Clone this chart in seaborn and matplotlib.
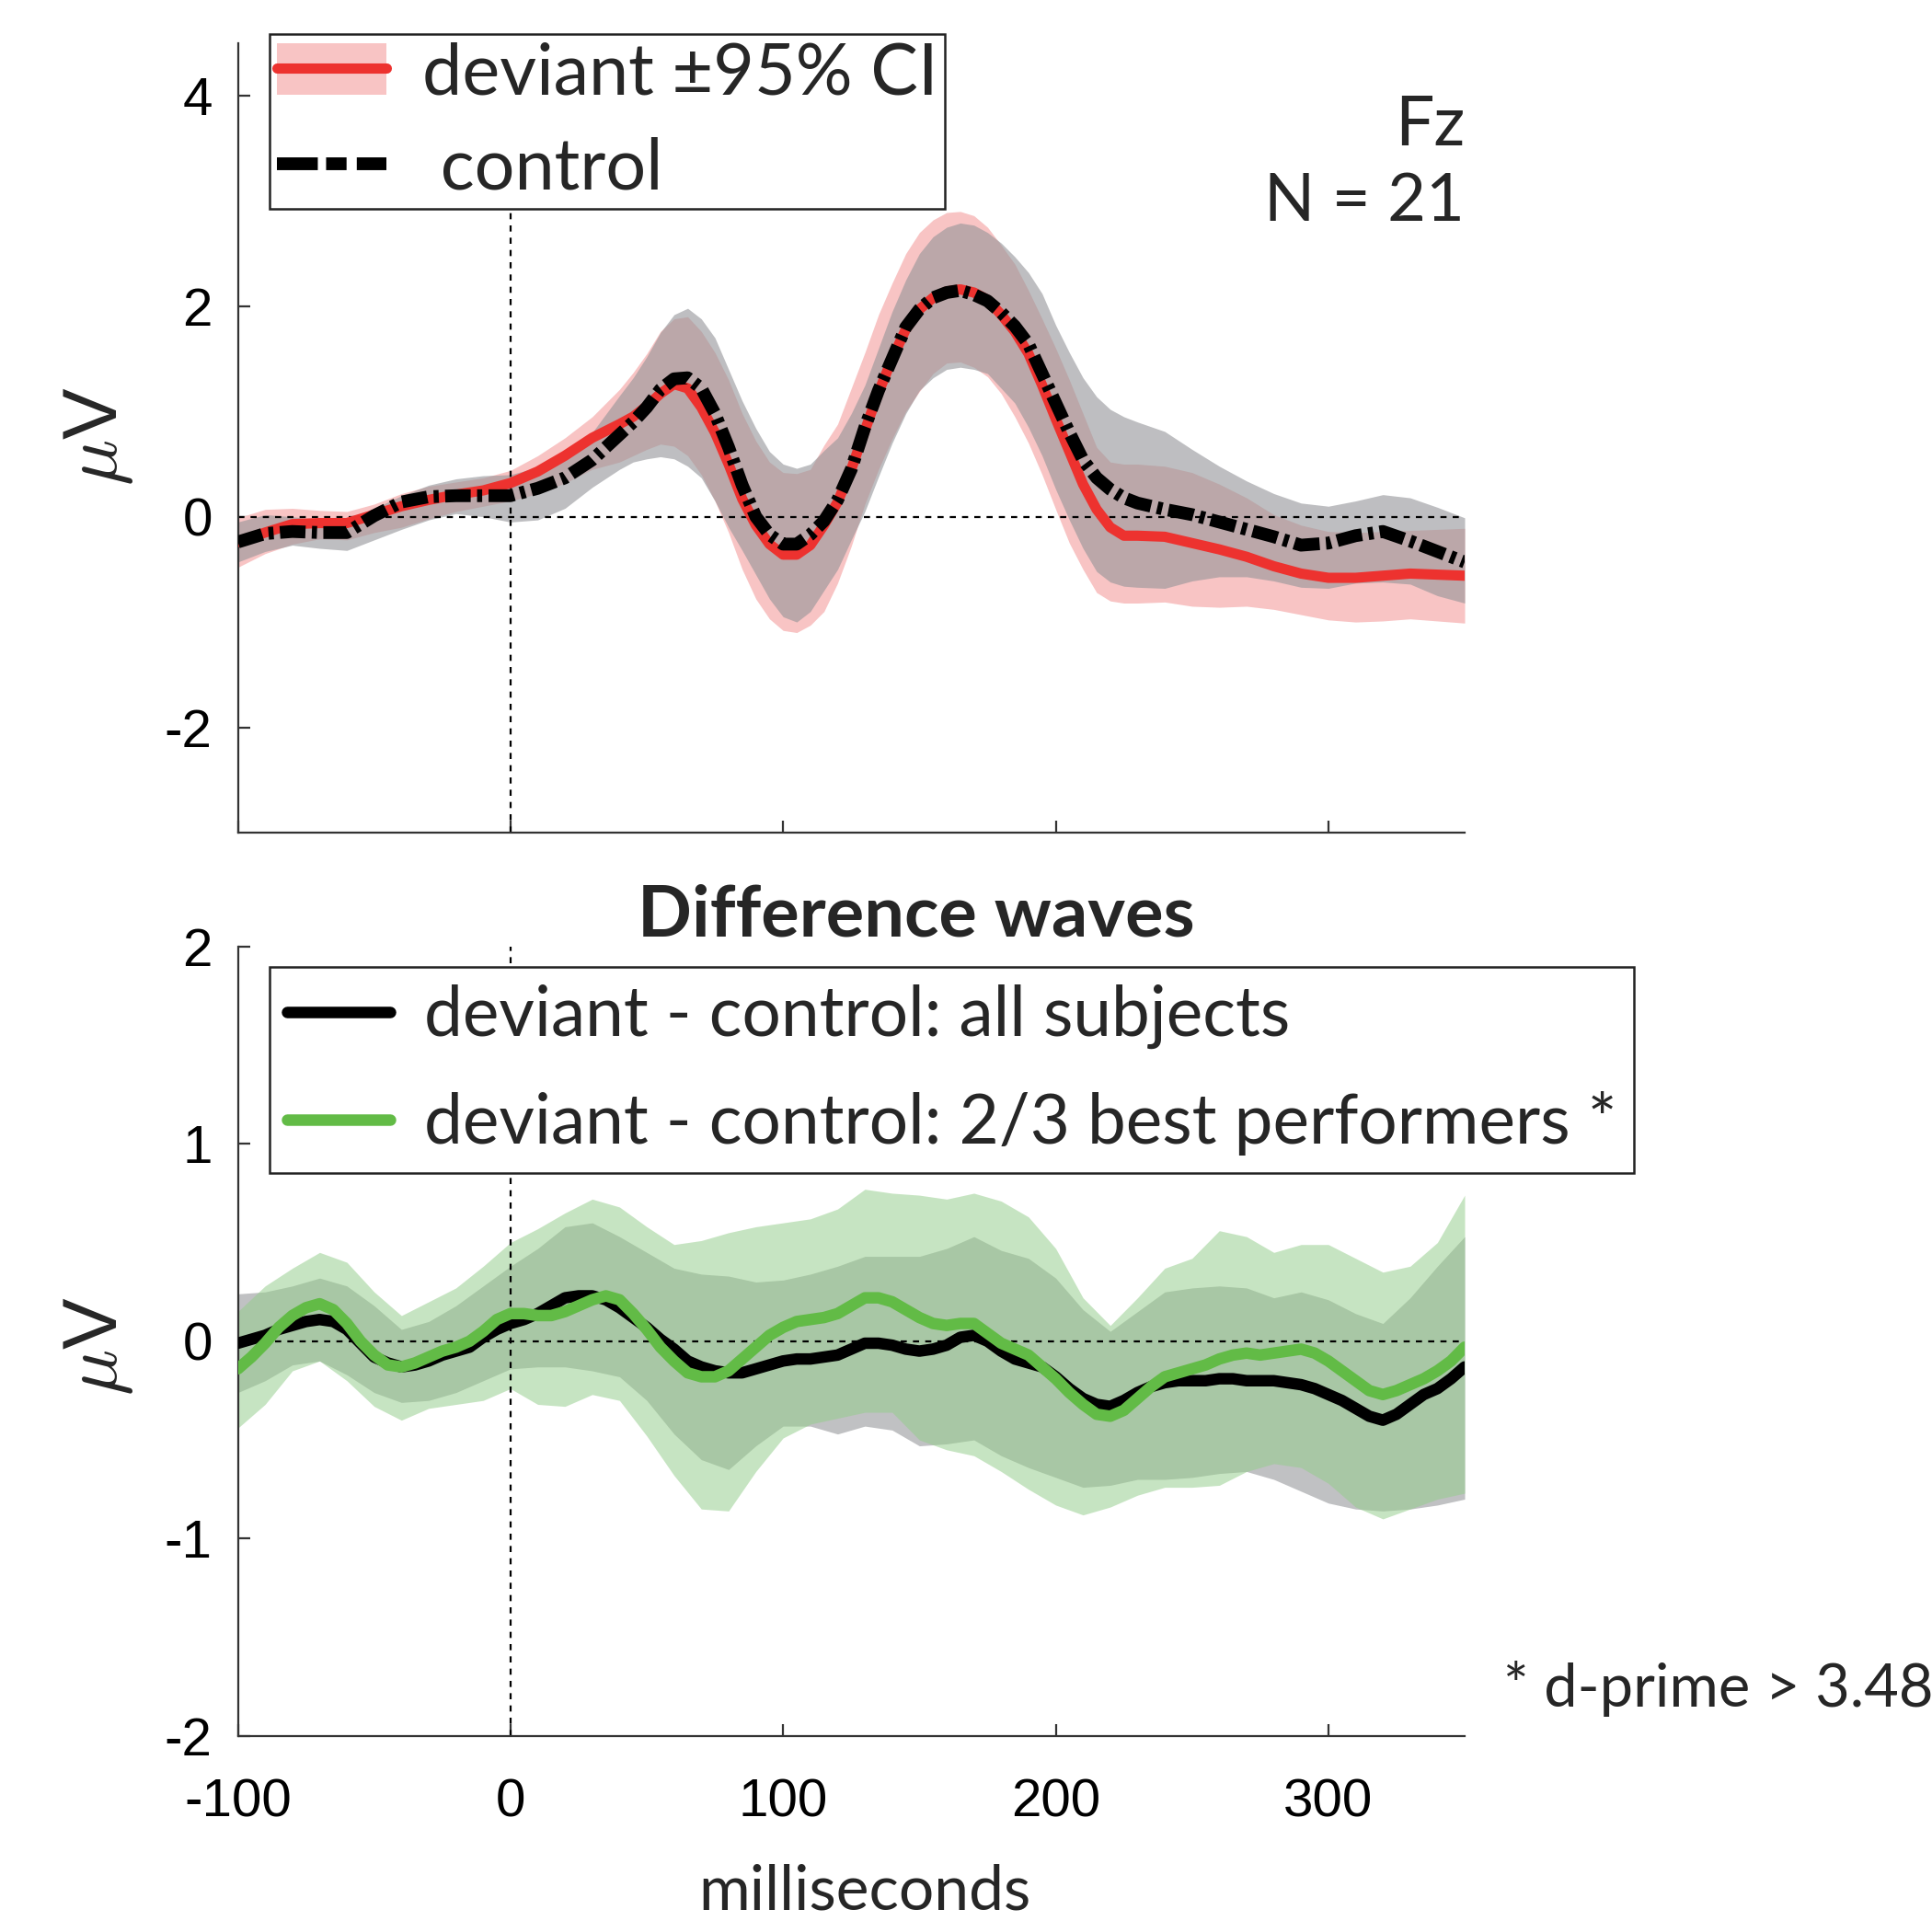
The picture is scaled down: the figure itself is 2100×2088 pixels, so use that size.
import pandas as pd
import matplotlib
matplotlib.use("Agg")
import matplotlib.pyplot as plt
from matplotlib.patches import Patch
from matplotlib.lines import Line2D
import seaborn as sns

# time axes in ms (top panel read every 5 ms around the peaks, 10 ms elsewhere)
time_top = list(range(-100, 40, 10)) + list(range(40, 231, 5)) + list(range(240, 351, 10))
time_band = list(range(-100, 351, 10))
time_line = list(range(-100, 351, 5))

####### Fz, N = 21 : grand averages (uV)
deviant = [-0.24, -0.15, -0.07, -0.06, -0.06, 0.02, 0.10, 0.16, 0.21, 0.25, 0.32, 0.43, 0.58, 0.75,
           0.88, 0.95, 1.05, 1.17, 1.26, 1.22, 1.04, 0.80, 0.50, 0.17,
           -0.08, -0.26, -0.36, -0.36, -0.27, -0.08, 0.14, 0.45, 0.82, 1.18,
           1.50, 1.78, 1.97, 2.08, 2.14, 2.16, 2.13, 2.06, 1.92, 1.76,
           1.55, 1.25, 0.93, 0.62, 0.31, 0.07, -0.10, -0.18, -0.18,
           -0.19, -0.25, -0.31, -0.38, -0.47, -0.54, -0.58, -0.58, -0.56, -0.54, -0.55, -0.56]
deviant_lo = [-0.48, -0.35, -0.26, -0.21, -0.22, -0.15, -0.10, -0.02, 0.05, 0.10, 0.15, 0.22, 0.32, 0.45,
              0.52, 0.58, 0.64, 0.69, 0.67, 0.58, 0.40, 0.15, -0.15, -0.50,
              -0.78, -0.97, -1.08, -1.10, -1.03, -0.90, -0.63, -0.28, 0.12, 0.45,
              0.74, 1.00, 1.19, 1.36, 1.46, 1.47, 1.42, 1.33, 1.17, 0.95,
              0.70, 0.40, 0.07, -0.25, -0.50, -0.72, -0.80, -0.82, -0.82,
              -0.81, -0.85, -0.86, -0.85, -0.88, -0.93, -0.98, -1.00, -0.99, -0.97, -0.99, -1.01]
deviant_hi = [-0.01, 0.07, 0.08, 0.06, 0.05, 0.12, 0.22, 0.29, 0.33, 0.37, 0.44, 0.58, 0.75, 0.95,
              1.21, 1.37, 1.55, 1.76, 1.88, 1.90, 1.76, 1.56, 1.30, 0.98,
              0.72, 0.52, 0.42, 0.41, 0.45, 0.68, 0.88, 1.22, 1.56, 1.92,
              2.22, 2.50, 2.70, 2.82, 2.89, 2.90, 2.86, 2.75, 2.58, 2.40,
              2.15, 1.88, 1.60, 1.30, 0.98, 0.66, 0.52, 0.50, 0.50,
              0.48, 0.42, 0.31, 0.18, 0.02, -0.08, -0.14, -0.15, -0.14, -0.13, -0.12, -0.11]
control = [-0.24, -0.16, -0.14, -0.15, -0.15, 0.01, 0.14, 0.19, 0.20, 0.20, 0.20, 0.27, 0.37, 0.54,
           0.78, 0.90, 1.04, 1.21, 1.31, 1.32, 1.22, 0.98, 0.66, 0.30,
           0.00, -0.17, -0.26, -0.26, -0.17, -0.04, 0.16, 0.45, 0.85, 1.20,
           1.50, 1.80, 1.97, 2.08, 2.13, 2.15, 2.11, 2.05, 1.94, 1.81,
           1.64, 1.36, 1.08, 0.80, 0.54, 0.37, 0.26, 0.18, 0.13,
           0.07, 0.02, -0.05, -0.12, -0.19, -0.27, -0.25, -0.18, -0.14, -0.23, -0.33, -0.43]
control_lo = [-0.43, -0.33, -0.27, -0.30, -0.32, -0.22, -0.12, -0.03, 0.03, 0.00, -0.05, -0.03, 0.08, 0.28,
              0.45, 0.52, 0.55, 0.57, 0.55, 0.48, 0.37, 0.15, -0.10, -0.32,
              -0.55, -0.78, -0.95, -1.00, -0.90, -0.70, -0.50, -0.22, 0.05, 0.38,
              0.70, 0.98, 1.20, 1.32, 1.40, 1.42, 1.40, 1.36, 1.22, 1.08,
              0.85, 0.58, 0.26, -0.03, -0.30, -0.52, -0.62, -0.66, -0.67,
              -0.68, -0.61, -0.57, -0.57, -0.61, -0.67, -0.68, -0.63, -0.62, -0.64, -0.75, -0.82]
control_hi = [-0.05, 0.02, 0.00, -0.03, -0.02, 0.08, 0.20, 0.30, 0.36, 0.39, 0.40, 0.47, 0.58, 0.80,
              1.15, 1.32, 1.52, 1.75, 1.92, 1.98, 1.88, 1.70, 1.40, 1.10,
              0.84, 0.62, 0.50, 0.46, 0.50, 0.63, 0.75, 0.98, 1.25, 1.60,
              1.95, 2.25, 2.50, 2.66, 2.75, 2.79, 2.77, 2.70, 2.60, 2.47,
              2.32, 2.12, 1.82, 1.56, 1.32, 1.14, 1.02, 0.95, 0.90,
              0.81, 0.64, 0.48, 0.34, 0.22, 0.13, 0.10, 0.15, 0.21, 0.18, 0.09, -0.01]

####### Difference waves (deviant - control), lines every 5 ms
diff_all = [-0.01, 0.01, 0.03, 0.06, 0.08, 0.10, 0.11, 0.10, 0.06, -0.01,
            -0.08, -0.11, -0.13, -0.12, -0.10, -0.07, -0.05, -0.03, 0.02, 0.06,
            0.09, 0.11, 0.14, 0.18, 0.22, 0.23, 0.23, 0.21, 0.17, 0.12,
            0.07, 0.01, -0.04, -0.10, -0.13, -0.15, -0.16, -0.16, -0.14, -0.12,
            -0.10, -0.09, -0.09, -0.08, -0.07, -0.04, -0.01, -0.01, -0.02, -0.04,
            -0.05, -0.04, -0.02, 0.02, 0.03, 0.00, -0.05, -0.09, -0.11, -0.13,
            -0.18, -0.24, -0.29, -0.32, -0.33, -0.30, -0.26, -0.23, -0.21, -0.20,
            -0.20, -0.20, -0.19, -0.19, -0.20, -0.20, -0.20, -0.21, -0.22, -0.24,
            -0.27, -0.30, -0.34, -0.38, -0.40, -0.37, -0.32, -0.27, -0.24, -0.19,
            -0.13]
diff_best = [-0.14, -0.08, -0.01, 0.07, 0.13, 0.17, 0.19, 0.16, 0.09, 0.00,
             -0.07, -0.12, -0.13, -0.11, -0.08, -0.05, -0.03, 0.00, 0.05, 0.11,
             0.14, 0.14, 0.13, 0.13, 0.15, 0.18, 0.21, 0.23, 0.21, 0.14,
             0.06, -0.03, -0.10, -0.16, -0.18, -0.18, -0.15, -0.09, -0.03, 0.03,
             0.07, 0.10, 0.11, 0.12, 0.14, 0.18, 0.22, 0.22, 0.20, 0.16,
             0.12, 0.09, 0.08, 0.09, 0.09, 0.04, -0.01, -0.04, -0.07, -0.13,
             -0.19, -0.26, -0.32, -0.37, -0.38, -0.35, -0.29, -0.23, -0.18, -0.16,
             -0.14, -0.12, -0.09, -0.07, -0.06, -0.07, -0.06, -0.05, -0.04, -0.06,
             -0.10, -0.15, -0.20, -0.25, -0.27, -0.25, -0.22, -0.19, -0.15, -0.10,
             -0.03]
# 95% CI bands, every 10 ms
diff_all_lo = [-0.26, -0.20, -0.12, -0.10, -0.17, -0.26, -0.31, -0.30, -0.26, -0.20,
               -0.14, -0.13, -0.13, -0.15, -0.18, -0.30, -0.47, -0.60, -0.65, -0.53,
               -0.43, -0.43, -0.47, -0.43, -0.45, -0.53, -0.52, -0.50, -0.58, -0.64,
               -0.69, -0.74, -0.73, -0.70, -0.70, -0.69, -0.67, -0.66, -0.70, -0.76,
               -0.82, -0.85, -0.86, -0.85, -0.83, -0.80]
diff_all_hi = [0.24, 0.25, 0.28, 0.32, 0.28, 0.18, 0.06, 0.10, 0.18, 0.28,
               0.38, 0.47, 0.58, 0.60, 0.53, 0.45, 0.37, 0.34, 0.33, 0.30,
               0.31, 0.34, 0.38, 0.43, 0.43, 0.43, 0.47, 0.53, 0.46, 0.42,
               0.32, 0.16, 0.05, 0.15, 0.25, 0.27, 0.28, 0.27, 0.22, 0.25,
               0.21, 0.14, 0.09, 0.22, 0.38, 0.53]
diff_best_lo = [-0.44, -0.32, -0.15, -0.10, -0.20, -0.33, -0.40, -0.34, -0.32, -0.30,
                -0.24, -0.32, -0.33, -0.27, -0.30, -0.48, -0.68, -0.85, -0.86, -0.66,
                -0.49, -0.42, -0.39, -0.36, -0.36, -0.50, -0.55, -0.58, -0.66, -0.75,
                -0.83, -0.88, -0.84, -0.78, -0.74, -0.74, -0.73, -0.66, -0.62, -0.64,
                -0.72, -0.84, -0.90, -0.85, -0.80, -0.77]
diff_best_hi = [0.15, 0.28, 0.37, 0.45, 0.40, 0.25, 0.13, 0.20, 0.27, 0.38,
                0.50, 0.57, 0.65, 0.72, 0.68, 0.58, 0.49, 0.51, 0.55, 0.58,
                0.60, 0.62, 0.67, 0.77, 0.75, 0.74, 0.72, 0.75, 0.71, 0.63,
                0.47, 0.22, 0.08, 0.22, 0.37, 0.42, 0.56, 0.53, 0.45, 0.49,
                0.49, 0.42, 0.35, 0.38, 0.50, 0.74]

xticks = [-100, 0, 100, 200, 300]
top_yticks = [-2, 0, 2, 4]
bottom_yticks = [-2, -1, 0, 1, 2]

erp = pd.DataFrame({"t": time_top,
                    "deviant": deviant, "deviant_lo": deviant_lo, "deviant_hi": deviant_hi,
                    "control": control, "control_lo": control_lo, "control_hi": control_hi})
diff_lines = pd.DataFrame({"t": time_line, "all": diff_all, "best": diff_best})
diff_bands = pd.DataFrame({"t": time_band,
                           "all_lo": diff_all_lo, "all_hi": diff_all_hi,
                           "best_lo": diff_best_lo, "best_hi": diff_best_hi})

sns.set_theme(style="ticks")
plt.rcParams["font.family"] = ["Lato", "DejaVu Sans"]
plt.rcParams["mathtext.fontset"] = "cm"
plt.rcParams["axes.unicode_minus"] = False

RED = "#ED322F"
PINK = "#F8C4C4"
GREEN = "#62BB46"
TICKFONT = "Liberation Sans"
DASHDOT = (0, (2.0, 0.5, 0.4, 0.5))

fig = plt.figure(figsize=(10.5, 10.44), dpi=200)
ax1 = fig.add_axes([0.1231, 0.5666, 0.635, 0.411])
ax2 = fig.add_axes([0.1231, 0.0963, 0.635, 0.411])

# top panel: deviant vs control with 95% CI
ax1.fill_between(erp["t"], erp["deviant_lo"], erp["deviant_hi"], color=PINK, lw=0, zorder=1)
ax1.fill_between(erp["t"], erp["control_lo"], erp["control_hi"], color=(147/255, 148/255, 152/255),
                 alpha=0.6, lw=0, zorder=1.5)
sns.lineplot(data=erp, x="t", y="deviant", ax=ax1, color=RED, lw=4.0, errorbar=None, zorder=3)
sns.lineplot(data=erp, x="t", y="control", ax=ax1, color="black", lw=5.0, errorbar=None, zorder=4,
             linestyle=DASHDOT)

# bottom panel: difference waves
ax2.fill_between(diff_bands["t"], diff_bands["all_lo"], diff_bands["all_hi"],
                 color="#C0C1C3", lw=0, zorder=1)
ax2.fill_between(diff_bands["t"], diff_bands["best_lo"], diff_bands["best_hi"],
                 color=(147/255, 205/255, 138/255), alpha=0.52, lw=0, zorder=1.5)
sns.lineplot(data=diff_lines, x="t", y="all", ax=ax2, color="black", lw=4.5, errorbar=None, zorder=3)
sns.lineplot(data=diff_lines, x="t", y="best", ax=ax2, color=GREEN, lw=4.5, errorbar=None, zorder=4)

for ax, ylim, yt in [(ax1, (-3, 4.5), top_yticks), (ax2, (-2, 2), bottom_yticks)]:
    ax.axhline(0, color="black", lw=0.8, ls=(0, (3, 3)), zorder=2)
    ax.axvline(0, color="black", lw=0.8, ls=(0, (3, 3)), zorder=2)
    ax.set_xlim(-100, 350)
    ax.set_ylim(*ylim)
    ax.set_xticks(xticks)
    ax.set_yticks(yt)
    ax.set_xlabel("")
    ax.set_ylabel("")
    sns.despine(ax=ax)
    for s in ["left", "bottom"]:
        ax.spines[s].set_linewidth(0.8)
        ax.spines[s].set_color("#333333")
    ax.tick_params(direction="in", length=4.7, width=0.8, color="#333333",
                   labelsize=21, labelcolor="black")
    ax.tick_params(axis="y", pad=10)
    ax.tick_params(axis="x", pad=16.5)
    for lab in ax.get_xticklabels() + ax.get_yticklabels():
        lab.set_family(TICKFONT)

ax1.tick_params(axis="x", labelbottom=False)

# legends
h_dev = (Patch(facecolor=PINK, edgecolor="none"), Line2D([], [], color=RED, lw=4.0))
h_ctl = Line2D([], [], color="black", lw=5.0, linestyle=(0, (3.2, 0.65, 1.6, 0.8)))
leg1 = ax1.legend([h_dev, h_ctl], ["deviant \u00b195% CI", " control"],
                  loc="upper left", bbox_to_anchor=(0.0259, 1.011), borderaxespad=0,
                  fontsize=27.8, frameon=True, fancybox=False, framealpha=1,
                  edgecolor="#222222", handlelength=1.55, handleheight=0.75,
                  handletextpad=0.5, borderpad=0.1, labelspacing=0.42)
leg1.get_frame().set_linewidth(0.9)

h_all = Line2D([], [], color="black", lw=4.5)
h_best = Line2D([], [], color=GREEN, lw=4.5)
leg2 = ax2.legend([h_all, h_best],
                  ["deviant - control: all subjects", "deviant - control: 2/3 best performers *"],
                  loc="upper left", bbox_to_anchor=(0.0259, 0.974), borderaxespad=0,
                  fontsize=26.9, frameon=True, fancybox=False, framealpha=1,
                  edgecolor="#222222", handlelength=1.5, handletextpad=0.5,
                  borderpad=0.25, labelspacing=0.62)
leg2.get_frame().set_linewidth(0.9)

# annotations
ax1.text(350, 3.53, "Fz", ha="right", va="baseline", fontsize=27)
ax1.text(350, 2.81, "N = 21", ha="right", va="baseline", fontsize=26)
fig.text(0.474, 0.5125, "Difference waves", ha="center", va="baseline",
         fontsize=27.9, fontweight="bold")
fig.text(0.778, 0.1116, "* d-prime > 3.48", ha="left", va="baseline", fontsize=23.4)
fig.text(0.4476, 0.0062, "milliseconds", ha="center", va="baseline", fontsize=24.4)
fig.text(0.051, 1 - 474 / 2088, r"$\mu$V", rotation=90, ha="center", va="center",
         fontsize=30, family=TICKFONT)
fig.text(0.051, 1 - 1463 / 2088, r"$\mu$V", rotation=90, ha="center", va="center",
         fontsize=30, family=TICKFONT)

fig.savefig("out.png", dpi=200, facecolor="white")
